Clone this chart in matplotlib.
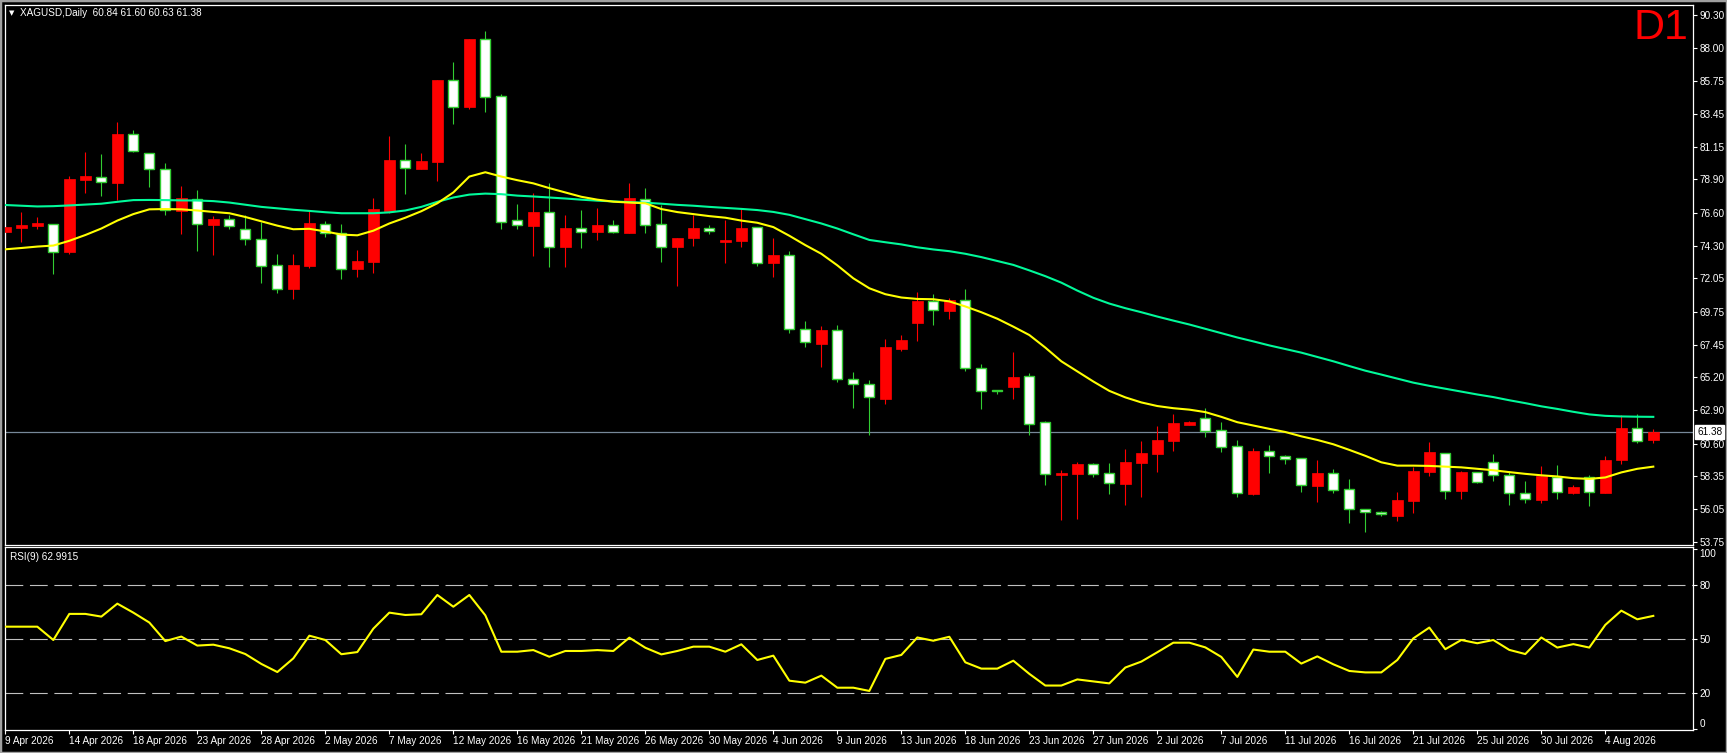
import matplotlib
matplotlib.use('Agg')
import matplotlib.pyplot as plt
from matplotlib.patches import Rectangle
import numpy as np

# XAGUSD daily candles
opens = [75.28, 75.55, 75.69, 75.79, 73.89, 78.86, 79.05, 78.67, 82.03, 80.71,
         79.60, 76.73, 77.57, 75.77, 76.16, 75.45, 74.75, 72.95, 71.29, 72.92,
         75.81, 75.17, 72.67, 73.20, 76.73, 80.22, 79.64, 80.10, 85.79, 83.90,
         88.61, 84.68, 76.09, 75.70, 76.62, 74.24, 75.51, 75.28, 75.72, 75.19,
         77.52, 75.79, 74.24, 74.86, 75.51, 74.59, 74.66, 75.58, 73.13, 73.64,
         68.52, 67.52, 68.45, 65.05, 64.71, 63.69, 67.15, 68.98, 70.48, 69.79,
         70.53, 65.81, 64.28, 64.52, 65.26, 62.07, 58.42, 58.51, 59.16, 58.54,
         57.82, 59.25, 59.90, 60.78, 61.89, 62.35, 61.52, 60.43, 57.11, 60.06,
         59.72, 59.58, 57.68, 58.54, 57.43, 56.04, 55.86, 55.60, 56.64, 58.65,
         59.97, 57.34, 58.65, 59.35, 58.40, 57.20, 56.69, 58.31, 57.20, 58.31,
         57.15, 59.46, 61.66, 60.84]
highs = [75.74, 76.66, 76.30, 75.82, 79.14, 80.80, 80.66, 82.87, 82.32, 80.75,
         80.02, 78.45, 78.17, 76.37, 76.44, 76.44, 75.97, 73.73, 73.73, 76.71,
         76.00, 75.81, 74.01, 77.59, 81.91, 81.35, 80.70, 85.79, 87.06, 88.63,
         89.19, 84.82, 77.20, 77.94, 78.63, 76.43, 76.78, 76.92, 76.09, 78.65,
         78.31, 77.13, 74.82, 76.43, 75.72, 76.09, 76.90, 75.58, 74.84, 73.95,
         69.09, 68.75, 68.82, 65.56, 65.01, 67.85, 68.12, 71.10, 70.99, 70.67,
         71.31, 66.11, 64.28, 66.95, 65.49, 62.16, 58.77, 59.30, 59.23, 59.25,
         60.22, 60.78, 61.82, 62.65, 62.14, 63.07, 62.10, 60.85, 60.29, 60.50,
         59.81, 59.58, 59.46, 58.84, 58.14, 56.04, 55.95, 57.24, 59.00, 60.71,
         59.97, 58.72, 58.65, 59.88, 58.72, 58.01, 59.07, 59.12, 57.73, 58.42,
         59.76, 62.58, 62.63, 61.60]
lows = [72.62, 74.59, 75.47, 72.35, 73.73, 77.98, 77.78, 77.48, 80.82, 78.40,
        76.44, 75.12, 73.96, 73.66, 75.50, 74.36, 71.74, 71.05, 70.60, 72.74,
        74.90, 71.98, 72.16, 72.40, 76.55, 77.89, 79.64, 78.79, 82.75, 83.78,
        83.59, 75.46, 75.49, 73.62, 72.85, 72.85, 74.17, 74.70, 75.16, 75.19,
        75.21, 73.20, 71.54, 74.31, 75.09, 73.13, 74.24, 72.92, 72.16, 68.24,
        67.32, 65.93, 64.89, 63.09, 61.19, 63.34, 67.04, 67.71, 68.82, 69.23,
        65.65, 63.00, 64.04, 63.69, 61.19, 57.73, 55.30, 55.37, 58.31, 57.13,
        56.34, 56.90, 58.65, 60.09, 61.89, 61.08, 60.02, 56.92, 57.04, 58.58,
        59.18, 57.27, 56.57, 57.20, 55.12, 54.50, 55.60, 55.26, 55.81, 58.38,
        56.78, 56.78, 57.84, 58.03, 56.37, 56.46, 56.46, 56.76, 57.08, 56.30,
        57.15, 59.16, 60.66, 60.63]
closes = [75.63, 75.74, 75.88, 73.89, 78.93, 79.14, 78.70, 82.05, 80.89, 79.60,
          76.76, 77.61, 75.79, 76.16, 75.65, 74.75, 72.92, 71.29, 72.95, 75.85,
          75.17, 72.67, 73.25, 76.85, 80.24, 79.67, 80.15, 85.79, 83.94, 88.63,
          84.63, 75.97, 75.72, 76.64, 74.19, 75.53, 75.28, 75.74, 75.28, 77.61,
          75.72, 74.24, 74.82, 75.53, 75.30, 74.70, 75.53, 73.13, 73.66, 68.52,
          67.62, 68.47, 65.05, 64.71, 63.80, 67.29, 67.78, 70.48, 69.83, 70.55,
          65.81, 64.27, 64.26, 65.21, 61.98, 58.47, 58.56, 59.18, 58.47, 57.84,
          59.32, 59.95, 60.85, 62.03, 62.10, 61.50, 60.39, 57.15, 60.09, 59.72,
          59.51, 57.71, 58.56, 57.36, 56.04, 55.83, 55.70, 56.69, 58.70, 60.00,
          57.34, 58.61, 57.91, 58.42, 57.18, 56.74, 58.35, 57.22, 57.57, 57.22,
          59.46, 61.70, 60.80, 61.38]

# moving averages (yellow = fast, spring green = slow)
ma_fast = [74.06, 74.15, 74.25, 74.32, 74.65, 75.05, 75.50, 76.05, 76.50, 76.83,
           76.85, 76.83, 76.75, 76.65, 76.56, 76.30, 76.00, 75.70, 75.45, 75.48,
           75.30, 75.08, 75.03, 75.35, 75.85, 76.25, 76.70, 77.25, 78.00, 79.10,
           79.40, 79.10, 78.85, 78.63, 78.30, 78.00, 77.70, 77.50, 77.36, 77.30,
           77.25, 76.85, 76.64, 76.50, 76.36, 76.25, 76.05, 75.90, 75.60, 75.00,
           74.35, 73.75, 72.95, 72.05, 71.36, 70.95, 70.72, 70.62, 70.60, 70.45,
           70.10, 69.70, 69.25, 68.70, 68.12, 67.25, 66.30, 65.60, 64.90, 64.25,
           63.80, 63.45, 63.20, 63.05, 62.95, 62.78, 62.45, 62.08, 61.85, 61.62,
           61.40, 61.10, 60.85, 60.55, 60.16, 59.75, 59.30, 59.07, 59.07, 59.05,
           59.00, 58.95, 58.85, 58.75, 58.62, 58.50, 58.40, 58.32, 58.20, 58.15,
           58.25, 58.60, 58.85, 59.00]
ma_slow = [77.13, 77.08, 77.03, 77.05, 77.10, 77.16, 77.22, 77.35, 77.47, 77.48,
           77.47, 77.45, 77.44, 77.40, 77.30, 77.15, 77.00, 76.90, 76.80, 76.72,
           76.63, 76.56, 76.56, 76.56, 76.62, 76.75, 77.00, 77.35, 77.65, 77.85,
           77.92, 77.88, 77.78, 77.72, 77.65, 77.58, 77.50, 77.43, 77.38, 77.33,
           77.29, 77.22, 77.14, 77.08, 77.00, 76.93, 76.86, 76.78, 76.65, 76.45,
           76.15, 75.85, 75.50, 75.10, 74.71, 74.55, 74.40, 74.20, 74.05, 73.93,
           73.75, 73.52, 73.25, 72.98, 72.60, 72.20, 71.75, 71.20, 70.70, 70.30,
           69.98, 69.70, 69.40, 69.12, 68.85, 68.55, 68.25, 67.95, 67.68, 67.40,
           67.15, 66.90, 66.60, 66.30, 65.97, 65.65, 65.38, 65.10, 64.82, 64.60,
           64.40, 64.20, 64.00, 63.82, 63.60, 63.40, 63.18, 63.00, 62.80, 62.62,
           62.52, 62.48, 62.46, 62.45]

# RSI(9)
rsi = [57.0, 57.0, 57.0, 49.6, 64.1, 64.1, 62.6, 69.8, 64.8, 59.3,
       49.0, 51.5, 46.5, 47.0, 45.0, 41.8, 36.3, 31.8, 39.4, 52.0,
       49.6, 41.7, 42.9, 55.9, 64.8, 63.5, 63.9, 74.6, 68.1, 74.6,
       63.3, 43.1, 43.1, 44.0, 40.3, 43.5, 43.5, 44.0, 43.5, 50.9,
       45.3, 41.6, 43.5, 45.9, 45.9, 43.1, 47.2, 38.5, 40.9, 27.0,
       25.9, 29.8, 23.1, 23.1, 21.3, 39.1, 41.3, 51.0, 49.2, 51.4,
       37.2, 33.7, 33.7, 38.1, 30.8, 24.3, 24.3, 27.7, 26.6, 25.5,
       34.3, 37.6, 42.8, 48.1, 48.1, 45.5, 40.2, 29.1, 44.3, 43.1,
       43.1, 36.5, 40.5, 36.1, 32.4, 31.6, 31.6, 38.5, 50.5, 56.5,
       44.5, 49.6, 47.8, 49.6, 44.1, 41.8, 51.0, 45.4, 47.3, 45.4,
       58.0, 65.9, 61.1, 63.0]

date_labels = ['9 Apr 2026', '14 Apr 2026', '18 Apr 2026', '23 Apr 2026', '28 Apr 2026',
               '2 May 2026', '7 May 2026', '12 May 2026', '16 May 2026', '21 May 2026',
               '26 May 2026', '30 May 2026', '4 Jun 2026', '9 Jun 2026', '13 Jun 2026',
               '18 Jun 2026', '23 Jun 2026', '27 Jun 2026', '2 Jul 2026', '7 Jul 2026',
               '11 Jul 2026', '16 Jul 2026', '21 Jul 2026', '25 Jul 2026', '30 Jul 2026',
               '4 Aug 2026']
price_ticks = [53.75, 56.05, 58.35, 60.60, 62.90, 65.20, 67.45, 69.75, 72.05,
               74.30, 76.60, 78.90, 81.15, 83.45, 85.75, 88.00, 90.30]
rsi_ticks = [0, 20, 50, 80, 100]
rsi_levels = [20, 50, 80]
last_price = 61.38

W, H = 1727, 753
FONT = 'Liberation Sans'
green = '#32cd32'

fig = plt.figure(figsize=(W / 100, H / 100), dpi=100, facecolor='black')
ax = fig.add_axes([4.7 / W, 1 - 545 / H, 1688.6 / W, 540.3 / H])
ax2 = fig.add_axes([4.7 / W, 1 - 730 / H, 1688.6 / W, 182.7 / H], sharex=ax)

o = np.array(opens)
h = np.array(highs)
l = np.array(lows)
c = np.array(closes)
x = np.arange(len(c))
up = c > o
dn = ~up

# wicks
ax.vlines(x[up], l[up], h[up], color='red', lw=0.8, zorder=2)
ax.vlines(x[dn], l[dn], h[dn], color=green, lw=0.8, zorder=2)
# bodies
bot = np.minimum(o, c)
hgt = np.maximum(np.abs(c - o), 0.06)
ax.bar(x[up], hgt[up], bottom=bot[up], width=0.68, color='red', edgecolor='red', lw=0.5, zorder=3)
ax.bar(x[dn], hgt[dn], bottom=bot[dn], width=0.62, color='white', edgecolor=green, lw=1.0, zorder=3)

ax.plot(x, ma_slow, color='#00fa9a', lw=1.5, zorder=4)
ax.plot(x, ma_fast, color='#ffff00', lw=1.5, zorder=4)
ax.axhline(last_price, color='#778899', lw=0.9, zorder=1)

ax.set_facecolor('black')
ax.set_xlim(-0.04, 105.5)
ax.set_ylim(53.57, 91.01)
ax.yaxis.tick_right()
ax.set_yticks(price_ticks)
ax.set_yticklabels(['%.2f' % v for v in price_ticks], fontfamily=FONT)
ax.tick_params(axis='y', colors='white', labelsize=7.2, length=3, width=0.8, pad=1.5)
ax.tick_params(axis='x', bottom=False, labelbottom=False)
for s in ax.spines.values():
    s.set_color('white')
    s.set_linewidth(0.9)

# current price box on the axis
ax.text(1.0022, last_price, '%.2f' % last_price, transform=ax.get_yaxis_transform(),
        fontsize=7.2, fontfamily=FONT, color='black', ha='left', va='center',
        bbox=dict(boxstyle='square,pad=0.18', fc='white', ec='white'), zorder=10, clip_on=False)

# RSI panel
ax2.plot(x, rsi, color='#ffff00', lw=1.5, zorder=3)
for lv in rsi_levels:
    ax2.axhline(lv, color='#c0c0c0', lw=0.8, linestyle=(0, (16, 6)), zorder=1)
ax2.set_facecolor('black')
ax2.set_ylim(-0.4, 101.1)
ax2.yaxis.tick_right()
ax2.set_yticks(rsi_ticks)
ax2.set_yticklabels([str(v) for v in rsi_ticks], fontfamily=FONT)
ax2.tick_params(axis='y', colors='white', labelsize=7.2, length=3, width=0.8, pad=1.5)
lbls = ax2.get_yticklabels()
lbls[0].set_va('bottom')
lbls[-1].set_va('top')
ax2.set_xticks(range(0, len(c), 4))
ax2.set_xticklabels(date_labels, fontfamily=FONT, ha='left')
ax2.tick_params(axis='x', colors='white', labelsize=7.2, length=3, width=0.8, pad=1)
for s in ax2.spines.values():
    s.set_color('white')
    s.set_linewidth(0.9)

# header texts
fig.text(8.5 / W, 1 - 12.8 / H, '\u25bc', color='white', fontsize=5, ha='left', va='center')
fig.text(20 / W, 1 - 13 / H, 'XAGUSD,Daily  60.84 61.60 60.63 61.38', color='white',
         fontsize=7.2, fontfamily=FONT, ha='left', va='center')
fig.text(9.5 / W, 1 - 556.7 / H, 'RSI(9) 62.9915', color='white',
         fontsize=7.2, fontfamily=FONT, ha='left', va='center')
fig.text(1688 / W, 1 - 8 / H, 'D1', color='red', fontsize=31, fontfamily=FONT, ha='right', va='top')

# window frame
fig.patches.append(Rectangle((0, 0), 1, 1, transform=fig.transFigure, fill=False,
                             ec='#a0a0a0', lw=2.5))

fig.savefig('out.png', dpi=100, facecolor='black')
